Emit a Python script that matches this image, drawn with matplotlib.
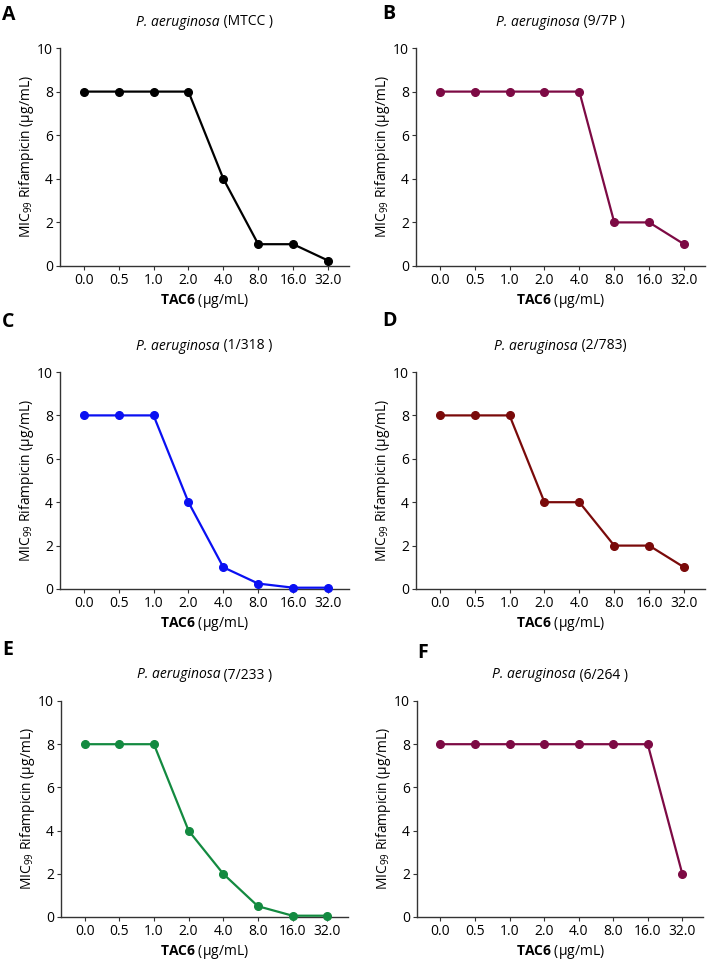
import matplotlib
matplotlib.use('Agg')
import matplotlib.pyplot as plt

plt.rcParams['font.family'] = ['Open Sans', 'DejaVu Sans']
plt.rcParams['mathtext.fontset'] = 'custom'
plt.rcParams['mathtext.rm'] = 'Open Sans'
plt.rcParams['mathtext.it'] = 'Open Sans:italic'
plt.rcParams['mathtext.bf'] = 'Open Sans:bold'

# TAC6 concentrations (categorical x axis)
tac6_labels = ['0.0', '0.5', '1.0', '2.0', '4.0', '8.0', '16.0', '32.0']

# MIC99 of rifampicin per strain
mic_mtcc = [8, 8, 8, 8, 4, 1, 1, 0.25]
mic_97p = [8, 8, 8, 8, 8, 2, 2, 1]
mic_1318 = [8, 8, 8, 4, 1, 0.25, 0.06, 0.06]
mic_2783 = [8, 8, 8, 4, 4, 2, 2, 1]
mic_7233 = [8, 8, 8, 4, 2, 0.5, 0.06, 0.06]
mic_6264 = [8, 8, 8, 8, 8, 8, 8, 2]

strains = ['MTCC ', '9/7P ', '1/318 ', '2/783', '7/233 ', '6/264 ']
panel_letters = ['A', 'B', 'C', 'D', 'E', 'F']
series = [mic_mtcc, mic_97p, mic_1318, mic_2783, mic_7233, mic_6264]
colors = ['#000000', '#7d0a44', '#0a10f2', '#7a0a0a', '#138a40', '#7d0a44']

W, H = 709, 961
fig = plt.figure(figsize=(W / 100, H / 100), dpi=100)
renderer = fig.canvas.get_renderer()

# axes boxes in pixels: left, top(y=10), right, bottom(y=0)
boxes = [
    (60, 48, 349, 266), (416, 48, 705, 266),
    (60, 372, 349, 589), (416, 372, 705, 589),
    (61, 701, 348, 917), (417, 701, 703, 917),
]
letter_pos = [(2, 5), (382, 4), (2, 312), (382, 311), (2, 640), (417, 643)]

fs = 10
x = list(range(len(tac6_labels)))
for i, (l, t, r, b) in enumerate(boxes):
    ax = fig.add_axes([l / W, 1 - b / H, (r - l) / W, (b - t) / H])
    ax.plot(x, series[i], color=colors[i], lw=1.6, marker='o', ms=5.5,
            clip_on=False, zorder=5)
    ax.set_ylim(0, 10)
    ax.set_xlim(-0.68, 7.6)
    ax.set_yticks([0, 2, 4, 6, 8, 10])
    ax.set_xticks(x)
    ax.set_xticklabels(tac6_labels)
    for s in ['top', 'right']:
        ax.spines[s].set_visible(False)
    for s in ['left', 'bottom']:
        ax.spines[s].set_color('#333333')
        ax.spines[s].set_linewidth(1.0)
    ax.tick_params(direction='out', length=3, width=0.8, color='#333333',
                   labelsize=fs, pad=2)
    ax.set_xlabel(r'$\mathbf{TAC6}$ (µg/mL)', fontsize=fs, labelpad=3)
    ax.set_ylabel(r'MIC$_{99}$ Rifampicin (µg/mL)', fontsize=fs, labelpad=1)

    # title: italic species name + strain in regular type, centred together
    cx = (l + r) / 2
    ty = 1 - (t - 26) / H
    t1 = fig.text(0, ty, 'P. aeruginosa', style='italic', fontsize=fs,
                  ha='left', va='center')
    t2 = fig.text(0, ty, ' (' + strains[i] + ')', fontsize=fs,
                  ha='left', va='center')
    w1 = t1.get_window_extent(renderer).width
    w2 = t2.get_window_extent(renderer).width
    x0 = cx - (w1 + w2) / 2
    t1.set_x(x0 / W)
    t2.set_x((x0 + w1) / W)

    lx, ly = letter_pos[i]
    fig.text(lx / W, 1 - ly / H, panel_letters[i], ha='left', va='top',
             fontsize=14, fontweight='bold')

fig.savefig('out.png', dpi=100)
